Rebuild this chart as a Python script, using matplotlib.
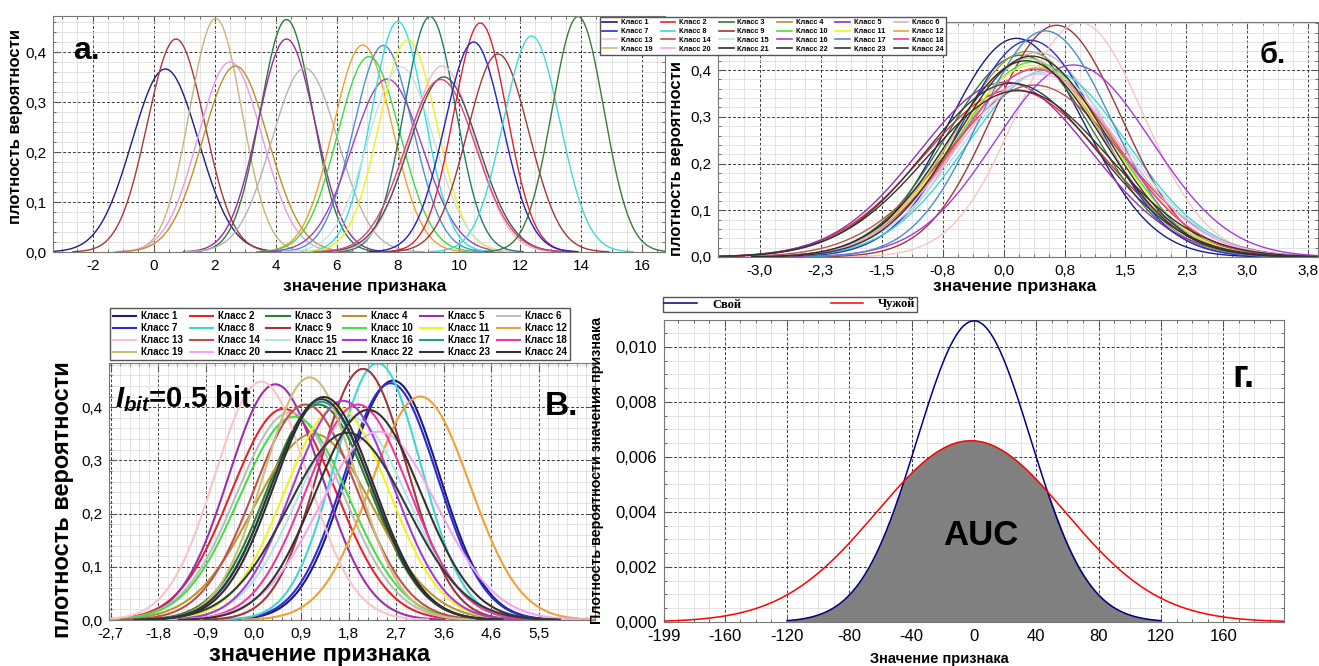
import numpy as np
import matplotlib

matplotlib.use("Agg")
import matplotlib.pyplot as plt
from matplotlib.lines import Line2D
from matplotlib.ticker import FixedLocator, FuncFormatter, MultipleLocator

W, H = 1319, 666

plt.rcParams["font.family"] = ["Liberation Sans", "DejaVu Sans"]
plt.rcParams["axes.unicode_minus"] = False
plt.rcParams["mathtext.fontset"] = "custom"
plt.rcParams["mathtext.it"] = "Liberation Sans:italic:bold"
plt.rcParams["mathtext.rm"] = "Liberation Sans:bold"

# --- data ---
CLASS_NAMES = [f"Класс {i}" for i in range(1, 25)]
CLASS_COLORS = [
    "#1c1c7c", "#e8232b", "#2f7d32", "#b8962e", "#9b2fae", "#bdbdbd",
    "#2b2bd6", "#3fd6d6", "#a0353a", "#45e045", "#f2f21f", "#f0a035",
    "#f7c4c8", "#c0504d", "#b5e3ea", "#a53bd8", "#1f9e9e", "#f0389a",
    "#cdbb7c", "#f2a6f2", "#2b2b2b", "#3a2f2f", "#2f3a3a", "#333333",
]

# panel а: separated classes
A_MEANS = [0.38, 0.73, 2.03, 2.5, 2.68, 4.35, 4.35, 4.95, 6.85, 7.05, 7.52, 7.65,
           8.0, 8.33, 8.1, 9.05, 9.45, 9.5, 9.4, 10.7, 10.48, 11.28, 12.38, 13.9]
A_PEAKS = [0.366, 0.426, 0.467, 0.38, 0.372, 0.465, 0.426, 0.368, 0.414, 0.391, 0.413, 0.346,
           0.461, 0.424, 0.37, 0.471, 0.372, 0.35, 0.345, 0.458, 0.42, 0.396, 0.432, 0.471]
A_COLORS = ["#1f1f7a", "#a33a3a", "#c8b47a", "#e89ae8", "#b8922a", "#2a7a3a", "#9a2aa0", "#b4b4b4",
            "#f0a030", "#40d840", "#4a90d8", "#a040c0", "#30e0e0", "#f0f020", "#c8e0e8", "#207a70",
            "#f0b8c8", "#505050", "#e0407a", "#e02030", "#2020d0", "#a03838", "#40d8d8", "#3a7a3a"]

# panel б: strongly overlapping classes
B_MEANS = [0.16, 0.12, 0.22, 0.30, 0.02, 0.42, 0.33, 0.55, 0.66, 0.38, 0.35, 0.42,
           0.95, 0.38, 0.50, 0.87, 0.52, 0.40, 0.30, 0.45, 0.28, 0.18, 0.10, 0.35]
B_PEAKS = [0.468, 0.358, 0.432, 0.44, 0.374, 0.438, 0.464, 0.40, 0.496, 0.418, 0.41, 0.405,
           0.502, 0.368, 0.395, 0.411, 0.484, 0.402, 0.425, 0.392, 0.42, 0.356, 0.372, 0.43]

# panel в: I_bit = 0.5 bit
V_MEANS = [2.68, 0.58, 1.25, 1.15, 0.42, 0.70, 2.63, 2.38, 2.10, 0.78, 1.60, 3.20,
           0.15, 1.00, 1.90, 1.72, 1.30, 2.00, 1.08, 2.40, 1.35, 2.20, 1.80, 1.30]
V_PEAKS = [0.45, 0.397, 0.405, 0.35, 0.443, 0.39, 0.445, 0.483, 0.472, 0.382, 0.40, 0.42,
           0.448, 0.405, 0.38, 0.412, 0.41, 0.405, 0.456, 0.354, 0.419, 0.395, 0.352, 0.415]

# panel г: own vs alien
G_LABELS = ["Свой", "Чужой"]
G_MEANS = [0.0, -2.0]
G_PEAKS = [0.01095, 0.00659]
G_RANGES = [(-120, 120), (-199, 199)]
G_COLORS = ["#000080", "#ff0000"]

A_XTICKS = [-2, 0, 2, 4, 6, 8, 10, 12, 14, 16]
B_XTICKS = [-3.04, -2.28, -1.52, -0.76, 0.0, 0.76, 1.52, 2.28, 3.04, 3.80]
V_XTICKS = [-2.736, -1.824, -0.912, 0.0, 0.912, 1.824, 2.736, 3.648, 4.56, 5.472]
G_XTICKS = [-199, -160, -120, -80, -40, 0, 40, 80, 120, 160]
P_YTICKS = [0.0, 0.1, 0.2, 0.3, 0.4]
G_YTICKS = [0.0, 0.002, 0.004, 0.006, 0.008, 0.010]


def rect(l, t, r, b):
    return [l / W, 1 - b / H, (r - l) / W, (b - t) / H]


def gauss(mu, peak, x0, x1, n=400):
    s = 1.0 / (peak * np.sqrt(2 * np.pi))
    x = np.linspace(max(mu - 3.6 * s, x0), min(mu + 3.6 * s, x1), n)
    return x, peak * np.exp(-0.5 * ((x - mu) / s) ** 2)


def comma(fmt):
    return FuncFormatter(lambda v, _: fmt.format(v).replace(".", ","))


def style(ax, minor_x, minor_y, size):
    ax.xaxis.set_minor_locator(MultipleLocator(minor_x))
    ax.yaxis.set_minor_locator(MultipleLocator(minor_y))
    ax.grid(which="minor", color="#dedede", lw=0.6)
    ax.grid(which="major", color="#3a3a3a", lw=0.7, ls=(0, (3, 2)))
    ax.set_axisbelow(True)
    ax.tick_params(which="both", direction="in", top=True, right=True,
                   color="#555555", labelcolor="black", labelsize=size, pad=5)
    ax.tick_params(which="major", length=5)
    ax.tick_params(which="minor", length=2.5)
    for sp in ax.spines.values():
        sp.set_color("#777777")


def ftext(x, y, s, **kw):
    fig.text(x / W, 1 - y / H, s, ha="center", va="center", **kw)


def class_legend(l, t, r, b, size, hlen, colors, lw):
    handles = [Line2D([], [], color=c, lw=lw) for c in colors]
    order = [c + 6 * k for c in range(6) for k in range(4)]
    leg = fig.legend([handles[i] for i in order], [CLASS_NAMES[i] for i in order],
                     ncol=6, loc="upper left", mode="expand",
                     bbox_to_anchor=(l / W, 1 - b / H, (r - l) / W, (b - t) / H),
                     prop={"weight": "bold", "size": size}, handlelength=hlen,
                     labelspacing=0.22, borderpad=0.3, columnspacing=0.5,
                     handletextpad=0.5, borderaxespad=0, fancybox=False, framealpha=1)
    leg.get_frame().set_edgecolor("#555555")
    leg.set_zorder(10)
    return leg


fig = plt.figure(figsize=(W / 100, H / 100), dpi=100)

# --- panel а ---
ax_a = fig.add_axes(rect(53, 16, 665, 252))
for mu, pk, c in zip(A_MEANS, A_PEAKS, A_COLORS):
    x, y = gauss(mu, pk, -3.3, 16.75)
    ax_a.plot(x, y, color=c, lw=1.0)
ax_a.set_xlim(-3.3, 16.75)
ax_a.set_ylim(0, 0.472)
ax_a.xaxis.set_major_locator(FixedLocator(A_XTICKS))
ax_a.yaxis.set_major_locator(FixedLocator(P_YTICKS))
ax_a.yaxis.set_major_formatter(comma("{:.1f}"))
style(ax_a, 0.5, 0.02, 11)
ax_a.text(0.055, 0.85, "а.", transform=ax_a.transAxes, fontsize=23, fontweight="bold",
          ha="center", va="center")
ftext(16, 126, "плотность вероятности", rotation=90, fontsize=12, fontweight="bold")
ftext(365, 287, "значение признака", fontsize=12.5, fontweight="bold")

# --- panel б ---
ax_b = fig.add_axes(rect(718, 22, 1318, 257))
b_colors = list(CLASS_COLORS)
b_colors[16] = "#4a8fc6"
for mu, pk, c in zip(B_MEANS, B_PEAKS, b_colors):
    x, y = gauss(mu, pk, -3.56, 3.92)
    ax_b.plot(x, y, color=c, lw=1.0)
ax_b.set_xlim(-3.56, 3.92)
ax_b.set_ylim(0, 0.503)
ax_b.xaxis.set_major_locator(FixedLocator(B_XTICKS))
ax_b.xaxis.set_major_formatter(comma("{:.1f}"))
ax_b.yaxis.set_major_locator(FixedLocator(P_YTICKS))
ax_b.yaxis.set_major_formatter(comma("{:.1f}"))
style(ax_b, 0.19, 0.02, 11)
ax_b.text(0.925, 0.86, "б.", transform=ax_b.transAxes, fontsize=21, fontweight="bold",
          ha="center", va="center")
ftext(676, 158, "плотность вероятности", rotation=90, fontsize=12, fontweight="bold")
ftext(1015, 287, "значение признака", fontsize=12.5, fontweight="bold")
class_legend(600, 17, 946, 55, 5.3, 2.0, b_colors, 1.2)

# --- panel в ---
ax_v = fig.add_axes(rect(109, 363, 595, 620))
for mu, pk, c in zip(V_MEANS, V_PEAKS, CLASS_COLORS):
    x, y = gauss(mu, pk, -2.77, 6.55)
    ax_v.plot(x, y, color=c, lw=1.5)
ax_v.set_xlim(-2.77, 6.55)
ax_v.set_ylim(0, 0.483)
ax_v.xaxis.set_major_locator(FixedLocator(V_XTICKS))
ax_v.xaxis.set_major_formatter(comma("{:.1f}"))
ax_v.yaxis.set_major_locator(FixedLocator(P_YTICKS))
ax_v.yaxis.set_major_formatter(comma("{:.1f}"))
style(ax_v, 0.1824, 0.02, 11)
ax_v.text(0.012, 0.86, r"$I_{bit}$=0.5 bit", transform=ax_v.transAxes, fontsize=21,
          fontweight="bold", ha="left", va="center")
ax_v.text(0.93, 0.83, "В.", transform=ax_v.transAxes, fontsize=24, fontweight="bold",
          ha="center", va="center")
ftext(63, 500, "плотность вероятности", rotation=90, fontsize=17, fontweight="bold")
ftext(320, 655, "значение признака", fontsize=17, fontweight="bold")
class_legend(110, 308, 570, 357, 7, 2.4, CLASS_COLORS, 1.5)

# --- panel г ---
ax_g = fig.add_axes(rect(664, 320, 1284, 622))
curves = []
for mu, pk, (x0, x1), c, lab in zip(G_MEANS, G_PEAKS, G_RANGES, G_COLORS, G_LABELS):
    x = np.linspace(x0, x1, 600)
    s = 1.0 / (pk * np.sqrt(2 * np.pi))
    y = pk * np.exp(-0.5 * ((x - mu) / s) ** 2)
    curves.append((x, y))
    ax_g.plot(x, y, color=c, lw=1.1, label=lab, zorder=3)
xo, yo = curves[0]
ya = np.interp(xo, curves[1][0], curves[1][1])
ax_g.fill_between(xo, 0, np.minimum(yo, ya), color="#808080", zorder=2)
ax_g.set_xlim(-199, 199)
ax_g.set_ylim(0, 0.01098)
ax_g.xaxis.set_major_locator(FixedLocator(G_XTICKS))
ax_g.yaxis.set_major_locator(FixedLocator(G_YTICKS))
ax_g.yaxis.set_major_formatter(comma("{:.3f}"))
style(ax_g, 10, 0.0005, 12)
ax_g.text(4.5, 0.00316, "AUC", fontsize=25, fontweight="bold", ha="center", va="center", zorder=4)
ax_g.text(0.935, 0.81, "г.", transform=ax_g.transAxes, fontsize=27, fontweight="bold",
          ha="center", va="center")
ftext(597, 470, "Плотность вероятности значения признака", rotation=90,
      fontsize=10.3, fontweight="bold")
ftext(939, 659, "Значение признака", fontsize=10.5, fontweight="bold")
leg_g = fig.legend(*ax_g.get_legend_handles_labels(), ncol=2, loc="upper left", mode="expand",
                   bbox_to_anchor=(663 / W, 1 - 313 / H, 254 / W, 16 / H),
                   prop={"family": "Liberation Serif", "weight": "bold", "size": 9},
                   handlelength=2.6, borderpad=0.12, borderaxespad=0, fancybox=False,
                   framealpha=1, handletextpad=1.2)
leg_g.get_frame().set_edgecolor("#555555")

fig.savefig("out.png", dpi=100)
